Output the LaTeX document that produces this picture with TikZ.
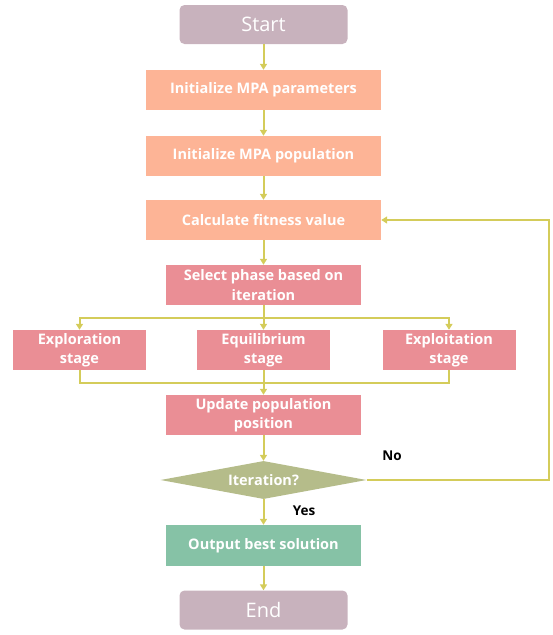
\documentclass[tikz,border=0pt]{standalone}
\usepackage{fontspec}
\setmainfont{Open Sans}
\usetikzlibrary{shapes.geometric,arrows.meta}
\definecolor{cStart}{RGB}{200,178,189}
\definecolor{cOrange}{RGB}{253,180,150}
\definecolor{cPink}{RGB}{234,142,149}
\definecolor{cDia}{RGB}{181,188,138}
\definecolor{cOut}{RGB}{134,194,166}
\definecolor{cLine}{RGB}{212,204,90}
\tikzset{
  base/.style={inner sep=0pt, text=white, font=\bfseries\fontsize{14.5}{19.5}\selectfont, align=center},
  term/.style={base, fill=cStart, rounded corners=5pt, minimum width=168pt, minimum height=39pt, font=\fontsize{20}{24}\selectfont},
  obox/.style={base, fill=cOrange, minimum width=235pt, minimum height=40pt},
  pbox/.style={base, fill=cPink, minimum width=195pt, minimum height=40pt},
  sbox/.style={base, fill=cPink, minimum width=133pt, minimum height=40pt},
  gbox/.style={base, fill=cOut, minimum width=195pt, minimum height=41pt},
  dbox/.style={base, fill=cDia, shape=diamond, aspect=5.4, minimum width=206pt, minimum height=38pt},
  ln/.style={draw=cLine, line width=2pt},
  arr/.style={ln, -{Triangle[length=6pt, width=7pt]}},
  lbl/.style={font=\bfseries\fontsize{13.5}{16}\selectfont, text=black}
}
\begin{document}
\begin{tikzpicture}[x=1pt, y=-1pt]
\useasboundingbox (0,0) rectangle (553,635);
\node[term] (start) at (263.5,24.5) {Start};
\node[obox] (ip) at (263.5,90) {Initialize MPA parameters};
\node[obox] (ipop) at (263.5,156) {Initialize MPA population};
\node[obox] (calc) at (263.5,220) {Calculate fitness value};
\node[pbox] (sel) at (263.5,285) {Select phase based on\\iteration};
\node[sbox] (explo) at (79.5,350) {Exploration\\stage};
\node[sbox] (equi) at (263.5,350) {Equilibrium\\stage};
\node[sbox] (exploit) at (449,350) {Exploitation\\stage};
\node[pbox] (upd) at (263.5,415) {Update population\\position};
\node[dbox] (dia) at (263.5,480) {Iteration?};
\node[gbox] (out) at (263.5,545.5) {Output best solution};
\node[term] (end) at (263.5,610) {End};
\node[lbl] (no) at (392,456) {No};
\node[lbl] (yes) at (304,511) {Yes};
\coordinate (sp) at (263.5,318);
\coordinate (mg) at (263.5,383);
\coordinate (fb) at (549,480);
\draw[arr] (start) -- (ip);
\draw[arr] (ip) -- (ipop);
\draw[arr] (ipop) -- (calc);
\draw[arr] (calc) -- (sel);
\draw[ln] (sel.south) -- (sp);
\draw[arr] (sp) -| (explo.north);
\draw[arr] (sp) -| (exploit.north);
\draw[arr] (sp) -- (equi.north);
\draw[ln] (explo.south) |- (mg);
\draw[ln] (exploit.south) |- (mg);
\draw[arr] (equi.south) -- (upd.north);
\draw[arr] (upd) -- (dia);
\draw[arr] (dia) -- (out);
\draw[arr] (out) -- (end);
\draw[arr] (dia.east) -- (fb) |- (calc.east);
\end{tikzpicture}
\end{document}
